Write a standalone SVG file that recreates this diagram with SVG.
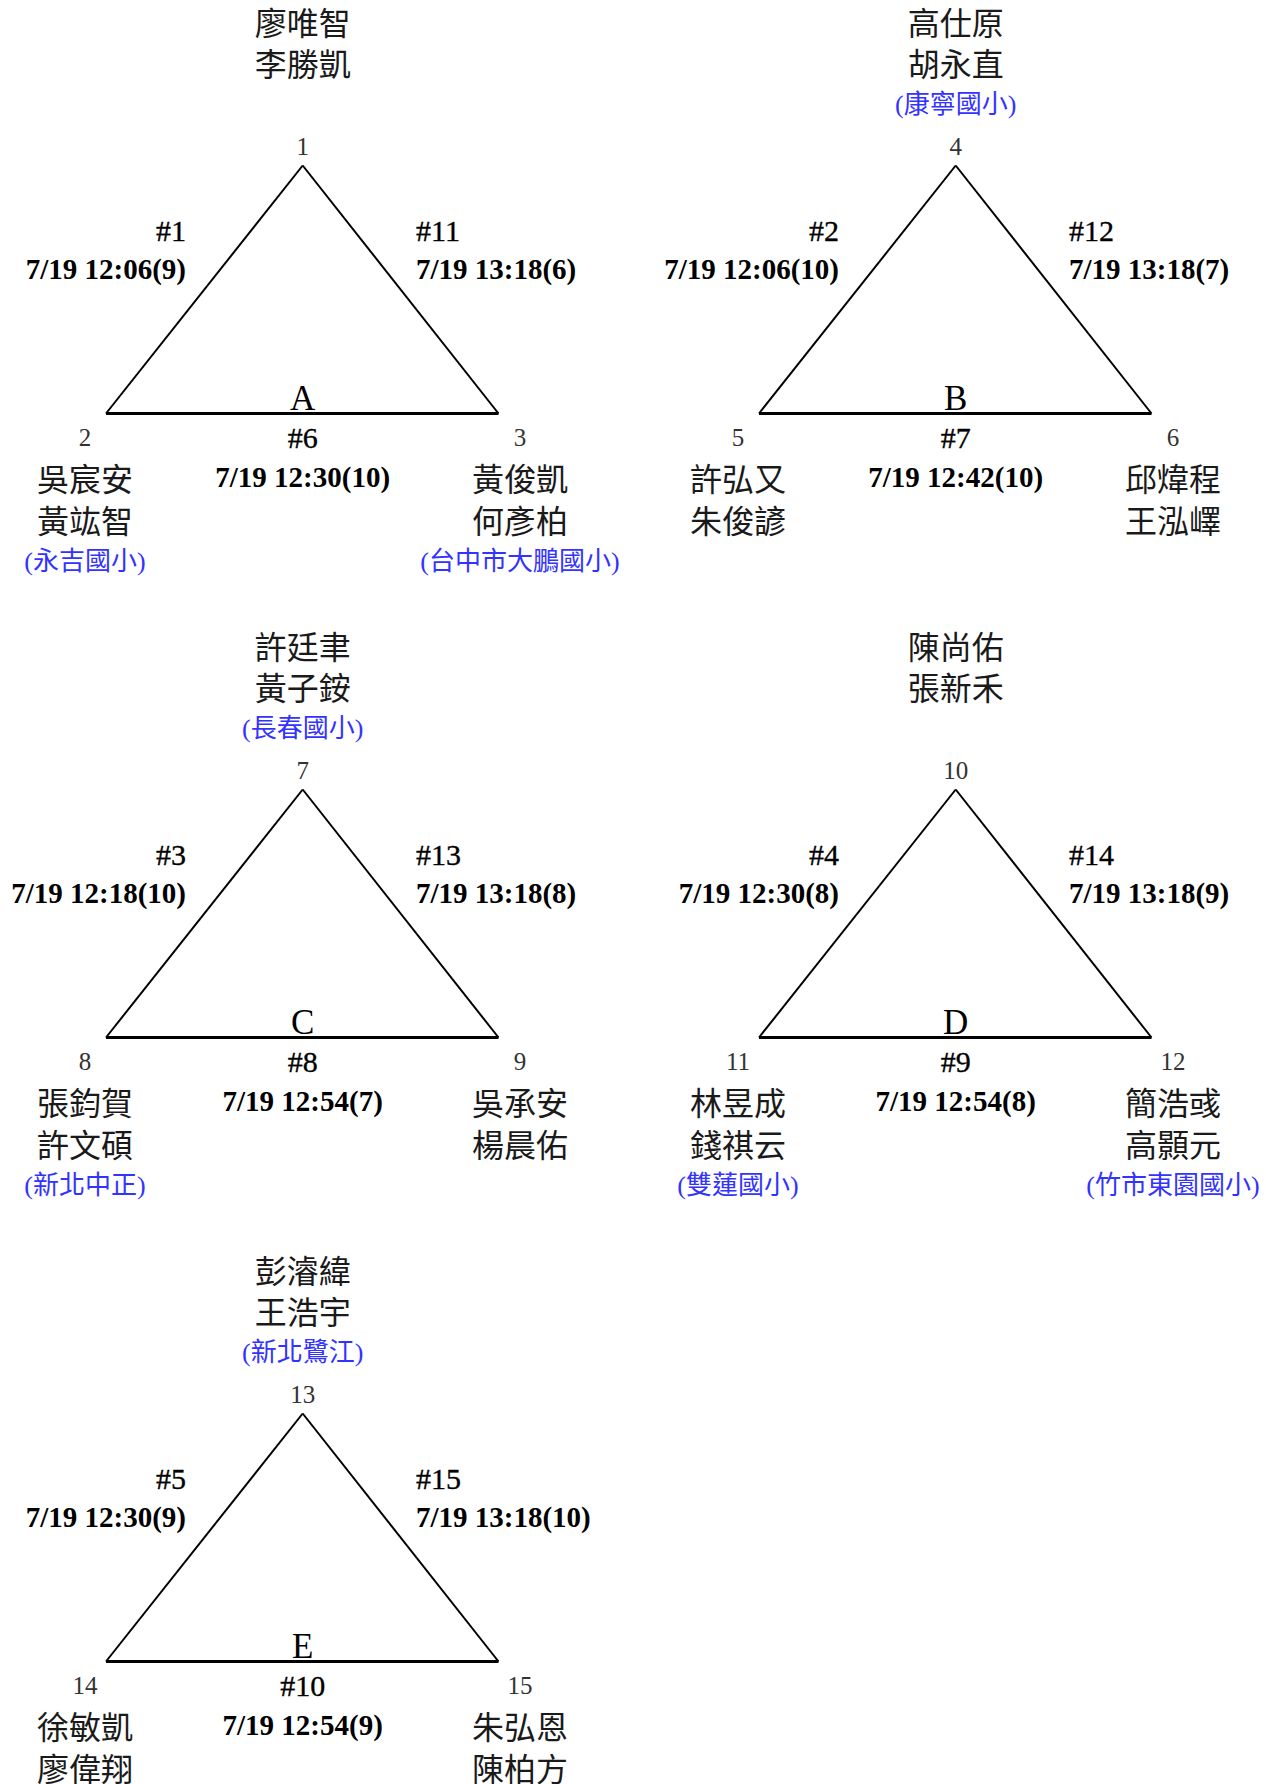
<svg xmlns="http://www.w3.org/2000/svg" width="1266" height="1784" viewBox="0 0 1266 1784">
<style>
text{font-family:"Liberation Serif","Noto Sans CJK TC",serif}
.nm{font-size:32px;fill:#1a1a1a;text-anchor:middle}
.sc{font-size:26px;fill:#3333ff;text-anchor:middle}
.num{font-size:25px;fill:#333;text-anchor:middle}
.hs{font-size:30px;fill:#000;stroke:#000;stroke-width:0.35}
.dt{font-size:29px;font-weight:bold;fill:#000}
.lt{font-size:35px;fill:#000;text-anchor:middle}
.l{text-anchor:end}.r{text-anchor:start}.c{text-anchor:middle}
.side{stroke:#000;stroke-width:2;fill:none}
.base{stroke:#000;stroke-width:3.2;fill:none}
</style>
<rect width="1266" height="1784" fill="#fff"/>
<defs>
<g id="tri"><line class="side" x1="106" y1="413.5" x2="302.7" y2="165.5"/><line class="side" x1="302.7" y1="165.5" x2="498.5" y2="413.5"/><line class="base" x1="106" y1="413.5" x2="498.5" y2="413.5"/></g>
</defs>
<g id="connectors">
<g id="edges-A"><use href="#tri"/>
<text class="hs l" x="186" y="240.7">#1</text><text class="dt l" x="186" y="279">7/19 12:06(9)</text>
<text class="hs r" x="416" y="240.7">#11</text><text class="dt r" x="416" y="279">7/19 13:18(6)</text>
<text class="hs c" x="302.7" y="447.5">#6</text><text class="dt c" x="302.7" y="487">7/19 12:30(10)</text>
<text class="lt" x="302.7" y="410">A</text></g>
<g id="edges-B" transform="translate(653,0)"><use href="#tri"/>
<text class="hs l" x="186" y="240.7">#2</text><text class="dt l" x="186" y="279">7/19 12:06(10)</text>
<text class="hs r" x="416" y="240.7">#12</text><text class="dt r" x="416" y="279">7/19 13:18(7)</text>
<text class="hs c" x="302.7" y="447.5">#7</text><text class="dt c" x="302.7" y="487">7/19 12:42(10)</text>
<text class="lt" x="302.7" y="410">B</text></g>
<g id="edges-C" transform="translate(0,624)"><use href="#tri"/>
<text class="hs l" x="186" y="240.7">#3</text><text class="dt l" x="186" y="279">7/19 12:18(10)</text>
<text class="hs r" x="416" y="240.7">#13</text><text class="dt r" x="416" y="279">7/19 13:18(8)</text>
<text class="hs c" x="302.7" y="447.5">#8</text><text class="dt c" x="302.7" y="487">7/19 12:54(7)</text>
<text class="lt" x="302.7" y="410">C</text></g>
<g id="edges-D" transform="translate(653,624)"><use href="#tri"/>
<text class="hs l" x="186" y="240.7">#4</text><text class="dt l" x="186" y="279">7/19 12:30(8)</text>
<text class="hs r" x="416" y="240.7">#14</text><text class="dt r" x="416" y="279">7/19 13:18(9)</text>
<text class="hs c" x="302.7" y="447.5">#9</text><text class="dt c" x="302.7" y="487">7/19 12:54(8)</text>
<text class="lt" x="302.7" y="410">D</text></g>
<g id="edges-E" transform="translate(0,1248)"><use href="#tri"/>
<text class="hs l" x="186" y="240.7">#5</text><text class="dt l" x="186" y="279">7/19 12:30(9)</text>
<text class="hs r" x="416" y="240.7">#15</text><text class="dt r" x="416" y="279">7/19 13:18(10)</text>
<text class="hs c" x="302.7" y="447.5">#10</text><text class="dt c" x="302.7" y="487">7/19 12:54(9)</text>
<text class="lt" x="302.7" y="410">E</text></g>
</g>
<g id="nodes">
<g id="node-1"><text class="nm" x="302.7" y="34.7">廖唯智</text><text class="nm" x="302.7" y="75.5">李勝凱</text><text class="num" x="302.7" y="155">1</text></g>
<g id="node-2"><text class="num" x="85" y="446">2</text><text class="nm" x="85" y="491">吳宸安</text><text class="nm" x="85" y="533">黃竑智</text><text class="sc" x="85" y="570">(永吉國小)</text></g>
<g id="node-3"><text class="num" x="520" y="446">3</text><text class="nm" x="520" y="491">黃俊凱</text><text class="nm" x="520" y="533">何彥柏</text><text class="sc" x="520" y="570">(台中市大鵬國小)</text></g>
<g id="node-4" transform="translate(653,0)"><text class="nm" x="302.7" y="34.7">高仕原</text><text class="nm" x="302.7" y="75.5">胡永直</text><text class="sc" x="302.7" y="113">(康寧國小)</text><text class="num" x="302.7" y="155">4</text></g>
<g id="node-5" transform="translate(653,0)"><text class="num" x="85" y="446">5</text><text class="nm" x="85" y="491">許弘又</text><text class="nm" x="85" y="533">朱俊諺</text></g>
<g id="node-6" transform="translate(653,0)"><text class="num" x="520" y="446">6</text><text class="nm" x="520" y="491">邱煒程</text><text class="nm" x="520" y="533">王泓嶧</text></g>
<g id="node-7" transform="translate(0,624)"><text class="nm" x="302.7" y="34.7">許廷聿</text><text class="nm" x="302.7" y="75.5">黃子銨</text><text class="sc" x="302.7" y="113">(長春國小)</text><text class="num" x="302.7" y="155">7</text></g>
<g id="node-8" transform="translate(0,624)"><text class="num" x="85" y="446">8</text><text class="nm" x="85" y="491">張鈞賀</text><text class="nm" x="85" y="533">許文碩</text><text class="sc" x="85" y="570">(新北中正)</text></g>
<g id="node-9" transform="translate(0,624)"><text class="num" x="520" y="446">9</text><text class="nm" x="520" y="491">吳承安</text><text class="nm" x="520" y="533">楊晨佑</text></g>
<g id="node-10" transform="translate(653,624)"><text class="nm" x="302.7" y="34.7">陳尚佑</text><text class="nm" x="302.7" y="75.5">張新禾</text><text class="num" x="302.7" y="155">10</text></g>
<g id="node-11" transform="translate(653,624)"><text class="num" x="85" y="446">11</text><text class="nm" x="85" y="491">林昱成</text><text class="nm" x="85" y="533">錢祺云</text><text class="sc" x="85" y="570">(雙蓮國小)</text></g>
<g id="node-12" transform="translate(653,624)"><text class="num" x="520" y="446">12</text><text class="nm" x="520" y="491">簡浩彧</text><text class="nm" x="520" y="533">高顥元</text><text class="sc" x="520" y="570">(竹市東園國小)</text></g>
<g id="node-13" transform="translate(0,1248)"><text class="nm" x="302.7" y="34.7">彭濬緯</text><text class="nm" x="302.7" y="75.5">王浩宇</text><text class="sc" x="302.7" y="113">(新北鷺江)</text><text class="num" x="302.7" y="155">13</text></g>
<g id="node-14" transform="translate(0,1248)"><text class="num" x="85" y="446">14</text><text class="nm" x="85" y="491">徐敏凱</text><text class="nm" x="85" y="533">廖偉翔</text></g>
<g id="node-15" transform="translate(0,1248)"><text class="num" x="520" y="446">15</text><text class="nm" x="520" y="491">朱弘恩</text><text class="nm" x="520" y="533">陳柏方</text></g>
</g>
</svg>
